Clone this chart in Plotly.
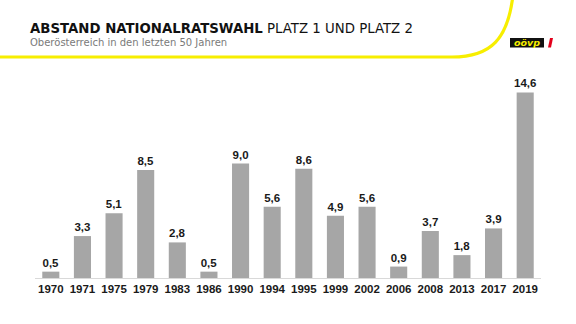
import plotly.graph_objects as go

years = ["1970", "1971", "1975", "1979", "1983", "1986", "1990", "1994",
         "1995", "1999", "2002", "2006", "2008", "2013", "2017", "2019"]
gap = [0.5, 3.3, 5.1, 8.5, 2.8, 0.5, 9.0, 5.6, 8.6, 4.9, 5.6, 0.9, 3.7, 1.8, 3.9, 14.6]
labels = [f"{v:.1f}".replace(".", ",") for v in gap]

title_bold = "ABSTAND NATIONALRATSWAHL"
title_rest = "PLATZ 1 UND PLATZ 2"
subtitle = "Oberösterreich in den letzten 50 Jahren"

W, H = 576, 324
L, R, T, B = 35, 35, 81, 46
PW, PH = W - L - R, H - T - B


def px(x):
    return (x - L) / PW


def py(y):
    return (H - B - y) / PH


fig = go.Figure(go.Bar(
    x=years, y=gap, text=labels, textposition="outside",
    texttemplate="%{text}", constraintext="none",
    marker=dict(color="#a6a6a6", line=dict(width=0)),
    textfont=dict(family="Liberation Sans", size=11.5, color="#1a1a1a", weight="bold"),
    cliponaxis=False, width=0.54,
))

shapes = []
# yellow curve
path = (f"M {px(-5)},{py(57)} L {px(452)},{py(57)} "
        f"C {px(492)},{py(57)} {px(508)},{py(38)} {px(513)},{py(-5)}")
shapes.append(dict(type="path", xref="paper", yref="paper", path=path,
                   line=dict(color="#f7ee00", width=3.2), layer="above"))
# logo box
shapes.append(dict(type="rect", xref="paper", yref="paper",
                   x0=px(510), x1=px(544), y0=py(38), y1=py(47.5),
                   fillcolor="#111111", line=dict(width=0)))
# red slash
shapes.append(dict(type="path", xref="paper", yref="paper",
                   path=(f"M {px(548)},{py(47.5)} L {px(551)},{py(47.5)} "
                         f"L {px(553)},{py(38)} L {px(550)},{py(38)} Z"),
                   fillcolor="#e3001b", line=dict(width=0)))

annotations = [
    dict(xref="paper", yref="paper", x=px(28), y=py(19), xanchor="left", yanchor="top",
         text=f"<b>{title_bold}</b> {title_rest}", showarrow=False,
         font=dict(family="DejaVu Sans", size=13.3, color="#111111")),
    dict(xref="paper", yref="paper", x=px(28), y=py(35), xanchor="left", yanchor="top",
         text=subtitle, showarrow=False,
         font=dict(family="DejaVu Sans", size=10, color="#7a7a7a")),
    dict(xref="paper", yref="paper", x=px(527), y=py(42.8), xanchor="center", yanchor="middle",
         text="<b><i>oövp</i></b>", showarrow=False,
         font=dict(family="DejaVu Sans", size=9.5, color="#f7ee00")),
]

fig.update_layout(
    width=W, height=H, margin=dict(l=L, r=R, t=T, b=B),
    paper_bgcolor="white", plot_bgcolor="white",
    showlegend=False, shapes=shapes, annotations=annotations,
    bargap=0.46,
    xaxis=dict(type="category", range=[-0.5, 15.5], showgrid=False,
               showline=True, linecolor="#d9d9d9", linewidth=1, ticks="",
               tickfont=dict(family="Liberation Sans", size=11.5, color="#1a1a1a", weight="bold"),
               fixedrange=True),
    yaxis=dict(range=[0, 15.5], visible=False, fixedrange=True),
)

fig.write_html("out.html")
